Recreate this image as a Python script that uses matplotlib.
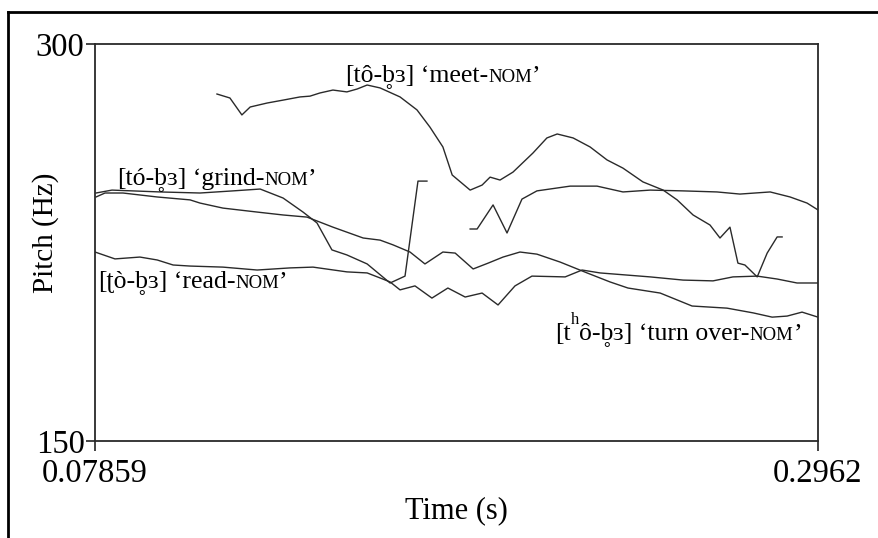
import matplotlib
matplotlib.use("Agg")
import matplotlib.pyplot as plt
import numpy as np
from matplotlib.lines import Line2D

# pitch tracks (time in s, F0 in Hz)
meet_t = [0.1153, 0.1192, 0.1228, 0.1253, 0.1304, 0.1352, 0.1403, 0.1433, 0.1463,
          0.1502, 0.1544, 0.1575, 0.1605, 0.1644, 0.1704, 0.1755, 0.1794, 0.1833,
          0.1861, 0.1915, 0.1951, 0.1975, 0.2005, 0.2044, 0.2104, 0.2146, 0.2177,
          0.2225, 0.2276, 0.2327, 0.2375, 0.2435, 0.2496, 0.2538, 0.2586, 0.2637,
          0.2667, 0.2697, 0.2721, 0.2742, 0.2779, 0.2809, 0.2839, 0.2854]
meet_f = [281.1, 279.6, 273.2, 276.2, 277.7, 278.8, 280.0, 280.3, 281.5,
          282.6, 281.9, 283.0, 284.5, 283.4, 280.0, 275.1, 268.6, 261.1,
          250.5, 244.8, 246.7, 249.7, 248.6, 251.6, 258.8, 264.5, 266.0,
          264.5, 261.1, 256.2, 253.1, 247.9, 244.8, 241.1, 235.4, 231.6,
          226.7, 230.8, 217.2, 216.5, 212.0, 221.0, 227.1, 227.1]

grind_t = [0.0789, 0.0837, 0.0982, 0.1102, 0.1201, 0.1283, 0.1352, 0.1412, 0.1454,
           0.1499, 0.1544, 0.1605, 0.1674, 0.1719, 0.1758, 0.1785]
grind_f = [243.7, 244.8, 244.1, 243.7, 244.5, 245.2, 241.8, 236.5, 232.4,
           222.2, 220.3, 216.9, 209.7, 212.3, 248.2, 248.2]

# later voiced stretch
late_t = [0.1915, 0.1936, 0.1984, 0.2026, 0.2071, 0.2116, 0.2216, 0.2297, 0.2375,
          0.2457, 0.2556, 0.2658, 0.2727, 0.2818, 0.2878, 0.2929, 0.2962]
late_f = [230.1, 230.1, 239.2, 228.6, 241.4, 244.5, 246.3, 246.3, 244.1,
          244.8, 244.5, 244.1, 243.3, 244.1, 242.2, 239.9, 237.3]

turn_t = [0.0789, 0.0816, 0.0870, 0.0973, 0.1072, 0.1102, 0.1171, 0.1274, 0.1352,
          0.1424, 0.1502, 0.1593, 0.1644, 0.1683, 0.1734, 0.1779, 0.1833, 0.1870,
          0.1924, 0.1969, 0.2014, 0.2065, 0.2116, 0.2186, 0.2267, 0.2336, 0.2390,
          0.2487, 0.2583, 0.2688, 0.2767, 0.2824, 0.2869, 0.2914, 0.2962]
turn_f = [242.2, 243.7, 243.7, 242.2, 241.1, 239.9, 238.0, 236.5, 235.4,
          234.6, 230.8, 226.7, 225.9, 224.1, 221.4, 216.9, 221.4, 221.0,
          215.0, 217.2, 219.5, 221.4, 220.6, 217.6, 213.5, 210.1, 207.8,
          205.9, 201.0, 200.2, 198.4, 196.8, 197.2, 198.7, 196.8]

read_t = [0.0786, 0.0846, 0.0921, 0.0973, 0.1021, 0.1072, 0.1171, 0.1274, 0.1373,
          0.1442, 0.1544, 0.1605, 0.1644, 0.1674, 0.1704, 0.1749, 0.1800, 0.1848,
          0.1900, 0.1951, 0.1999, 0.2050, 0.2101, 0.2201, 0.2252, 0.2306, 0.2457,
          0.2556, 0.2646, 0.2706, 0.2779, 0.2839, 0.2899, 0.2962]
read_f = [221.4, 218.8, 219.5, 218.4, 216.5, 216.1, 215.7, 214.6, 215.4,
          215.7, 213.9, 213.5, 211.6, 210.1, 207.1, 208.6, 204.0, 207.8,
          204.4, 205.9, 201.4, 208.6, 212.3, 212.0, 214.6, 213.5, 212.0,
          210.8, 210.5, 212.0, 212.3, 211.2, 209.7, 209.7]

x_ticks = [0.07859, 0.2962]
x_ticklabels = ["0.07859", "0.2962"]
y_ticks = [150, 300]
y_ticklabels = ["150", "300"]

serif = ["Liberation Serif", "DejaVu Serif"]
W, H = 879, 538

fig = plt.figure(figsize=(W / 100, H / 100), dpi=100)
ax = fig.add_axes([95 / W, 1 - 441 / H, 723 / W, 397 / H])

line_kw = dict(color="#2a2a2a", lw=1.0)
for t, f in [(meet_t, meet_f), (grind_t, grind_f), (late_t, late_f),
             (turn_t, turn_f), (read_t, read_f)]:
    ax.plot(t, f, **line_kw)

ax.set_xlim(x_ticks[0], x_ticks[1])
ax.set_ylim(y_ticks[0], y_ticks[1])
ax.set_xticks(x_ticks)
ax.set_xticklabels(x_ticklabels, family=serif, fontsize=23.5)
ax.set_yticks(y_ticks)
ax.set_yticklabels(y_ticklabels, family=serif, fontsize=23.5)
ax.tick_params(axis="x", direction="out", length=7.5, width=1.2, pad=5, color="#222")
ax.tick_params(axis="y", direction="out", length=6.5, width=1.2, pad=1, color="#222")
for sp in ax.spines.values():
    sp.set_color("#2a2a2a")
    sp.set_linewidth(1.3)

ax.set_xlabel("Time (s)", family=serif, fontsize=22)
ax.xaxis.set_label_coords(0.5, -(511 - 441) / 397)
ax.xaxis.label.set_va("center")
ax.set_ylabel("Pitch (Hz)", family=serif, fontsize=21)
ax.yaxis.set_label_coords((46 - 95) / 723, (441 - 233) / 397)
ax.yaxis.label.set_va("center")

# outer frame (left and top edges)
fig.add_artist(Line2D([8 / W, 8 / W], [0, 1 - 12 / H], transform=fig.transFigure,
                      color="black", lw=2.0))
fig.add_artist(Line2D([8 / W, 1], [1 - 12 / H, 1 - 12 / H], transform=fig.transFigure,
                      color="black", lw=2.0))

renderer = fig.canvas.get_renderer()


def put_label(x, y, pieces):
    # lay text pieces out left to right on one baseline (pixel coords from top-left);
    # a piece of None puts a voiceless ring under the previous piece's last letter
    last = None
    for piece in pieces:
        if piece is None:
            bb = last.get_window_extent(renderer)
            cx = bb.x1 - ring_w / 2
            fig.text(cx / W, 1 - (y + 1) / H, "\u02f3", family=serif, fontsize=big,
                     ha="center", va="baseline", color="black")
            continue
        s, size, rise = piece
        last = fig.text(x / W, 1 - (y - rise) / H, s, family=serif, fontsize=size,
                        ha="left", va="baseline", color="black")
        x += last.get_window_extent(renderer).width


big, small = 18.5, 13.5
probe = fig.text(0, 0, "b", family=serif, fontsize=big)
ring_w = probe.get_window_extent(renderer).width
probe.remove()

put_label(345, 82, [("[tô-b", big, 0), None, ("\u025c] \u2018meet-", big, 0),
                    ("NOM", small, 0), ("\u2019", big, 0)])
put_label(117, 185, [("[tó-b", big, 0), None, ("\u025c] \u2018grind-", big, 0),
                     ("NOM", small, 0), ("\u2019", big, 0)])
put_label(98, 288, [("[\u0288ò-b", big, 0), None, ("\u025c] \u2018read-", big, 0),
                    ("NOM", small, 0), ("\u2019", big, 0)])
put_label(555, 340, [("[t", big, 0), ("h", 12, 16), ("ô-b", big, 0), None,
                     ("\u025c] \u2018turn over-", big, 0), ("NOM", small, 0), ("\u2019", big, 0)])

fig.savefig("out.png", dpi=100)
